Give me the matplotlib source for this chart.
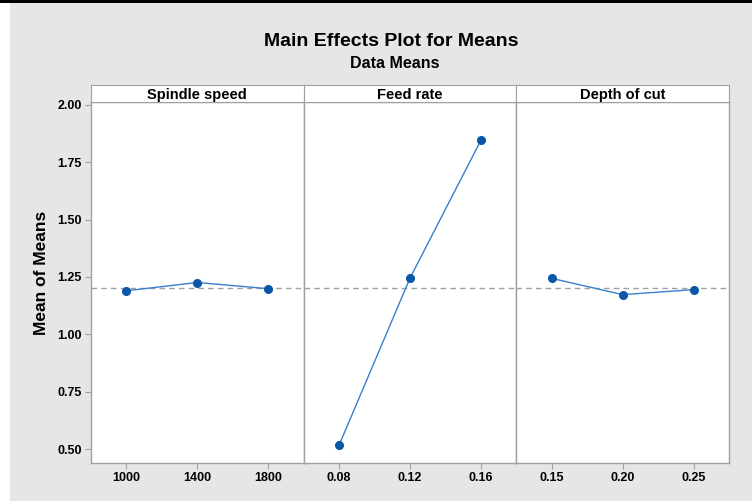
import matplotlib
matplotlib.use("Agg")
import matplotlib.pyplot as plt
import numpy as np

plt.rcParams['font.family'] = ['Liberation Sans', 'DejaVu Sans']

factors = ["Spindle speed", "Feed rate", "Depth of cut"]
levels = [["1000", "1400", "1800"],
          ["0.08", "0.12", "0.16"],
          ["0.15", "0.20", "0.25"]]
spindle_means = [1.190, 1.226, 1.199]
feed_means = [0.517, 1.245, 1.846]
depth_means = [1.244, 1.173, 1.195]
all_means = [spindle_means, feed_means, depth_means]
y_ticks = [0.50, 0.75, 1.00, 1.25, 1.50, 1.75, 2.00]

grand_mean = np.mean(np.concatenate(all_means))

W, H = 752, 501
fig = plt.figure(figsize=(W / 100, H / 100), dpi=100)
fig.patch.set_facecolor("white")

# grey panel behind everything, black rule on top
bg = fig.add_axes([10 / W, 0, 1 - 10 / W, 1 - 3 / H])
bg.set_facecolor("#e6e6e6")
bg.set_xticks([])
bg.set_yticks([])
for s in bg.spines.values():
    s.set_visible(False)
fig.add_artist(plt.Rectangle((0, 1 - 3 / H), 1, 3 / H, transform=fig.transFigure,
                             facecolor="black", edgecolor="none"))

fig.text(391 / W, 1 - 42 / H, "Main Effects Plot for Means", ha="center", va="center",
         fontsize=14, fontweight="bold")
fig.text(395 / W, 1 - 64 / H, "Data Means", ha="center", va="center",
         fontsize=11.5, fontweight="bold")

left, right = 91, 729
top_strip, top_plot, bottom = 85, 102, 463
pw = (right - left) / 3
grey = "#a0a0a0"

for i in range(3):
    x0 = left + i * pw
    ax = fig.add_axes([x0 / W, 1 - bottom / H, pw / W, (bottom - top_plot) / H])
    ax.set_facecolor("white")
    xs = np.arange(3)
    ax.axhline(grand_mean, color=grey, linestyle=(0, (4, 3)), linewidth=1, zorder=1)
    ax.plot(xs, all_means[i], color="#3b7dd0", linewidth=1, zorder=2)
    ax.plot(xs, all_means[i], "o", color="#0a56a8", markersize=5.5, zorder=3)
    ax.set_xlim(-0.5, 2.5)
    ax.set_ylim(0.439, 2.013)
    ax.set_xticks(xs)
    ax.set_xticklabels(levels[i], fontsize=9, fontweight="bold")
    ax.tick_params(axis="both", direction="out", length=4, color=grey, pad=2.5)
    if i == 0:
        ax.set_yticks(y_ticks)
        ax.set_yticklabels([f"{v:.2f}" for v in y_ticks], fontsize=9, fontweight="bold")
    else:
        ax.set_yticks([])
    for s in ax.spines.values():
        s.set_color(grey)
        s.set_linewidth(1)

    hdr = fig.add_axes([x0 / W, 1 - top_plot / H, pw / W, (top_plot - top_strip) / H])
    hdr.set_facecolor("white")
    hdr.set_xticks([])
    hdr.set_yticks([])
    for s in hdr.spines.values():
        s.set_color(grey)
    hdr.text(0.5, 0.4, factors[i], ha="center", va="center", fontsize=10.5,
             fontweight="bold", transform=hdr.transAxes)

fig.text(42 / W, 1 - 273 / H, "Mean of Means", rotation=90, ha="center", va="center",
         fontsize=12.5, fontweight="bold")

fig.savefig("out.png", dpi=100)
